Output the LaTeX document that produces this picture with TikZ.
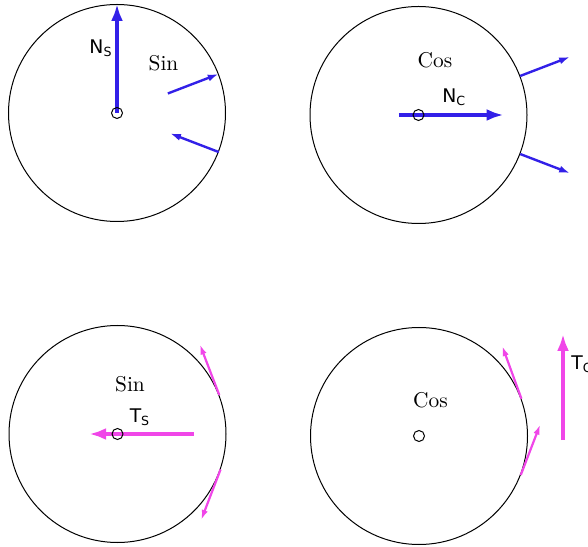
\documentclass[tikz,border=0pt]{standalone}
\usepackage{fontspec}
\newfontfamily\labelfont{DejaVu Sans}
\usetikzlibrary{arrows.meta,calc}
\definecolor{forceblue}{RGB}{50,32,232}
\definecolor{forcepink}{RGB}{240,70,232}
\newcommand{\forcelabel}[2]{{\labelfont\fontsize{9.4}{11}\selectfont #1\raisebox{-1.7pt}{\fontsize{6.3}{7}\selectfont #2}}}

\begin{document}
\begin{tikzpicture}[x=0.5pt,y=0.5pt,
    wheel/.style={circle, draw, line width=0.5pt, minimum size=108.5pt, inner sep=0pt},
    hub/.style={circle, draw, line width=0.5pt, minimum size=5.5pt, inner sep=0pt},
    word/.style={inner sep=0pt, font=\fontsize{10.7}{13}\selectfont},
    tag/.style={inner sep=0pt},
    bluebig/.style={forceblue, line width=2pt, -{Latex[length=8.5pt,width=6pt]}},
    bluesmall/.style={forceblue, line width=1.2pt, -{Latex[length=5.5pt,width=3.5pt]}},
    pinkbig/.style={forcepink, line width=1.8pt, -{Latex[length=8.5pt,width=6pt]}},
    pinksmall/.style={forcepink, line width=1.1pt, -{Latex[length=5pt,width=3.2pt]}}]
    \useasboundingbox (0,0) rectangle (588,546);

    % the four wheels
    \node[wheel] (sinN) at (117,433) {};
    \node[wheel] (cosN) at (418.5,431) {};
    \node[wheel] (sinT) at (117.5,112) {};
    \node[wheel] (cosT) at (419,110) {};

    % normal forces, sine wheel
    \draw[bluebig] (sinN.center) -- (sinN.north);
    \draw[bluesmall] ($(sinN)!0.5!(sinN.21)$) -- (sinN.21);
    \draw[bluesmall] (sinN.-21) -- ($(sinN)!0.52!(sinN.-21)$);

    % normal forces, cosine wheel
    \draw[bluebig] ($(cosN)!-0.18!(cosN.east)$) -- ($(cosN)!0.78!(cosN.east)$);
    \draw[bluesmall] (cosN.21) -- ($(cosN)!1.49!(cosN.21)$);
    \draw[bluesmall] (cosN.-21) -- ($(cosN)!1.49!(cosN.-21)$);

    % tangential forces, sine wheel
    \draw[pinkbig] ($(sinT)!0.7!(sinT.east)$) -- ($(sinT)!0.26!(sinT.west)$);
    \draw[pinksmall] (sinT.21) -- ++(111:54);
    \draw[pinksmall] (sinT.-19) -- ++(-111:54);

    % tangential forces, cosine wheel
    \coordinate (tcTail) at (563,106);
    \coordinate (tcHead) at (563,212);
    \draw[pinkbig] (tcTail) -- (tcHead);
    \draw[pinksmall] (cosT.20) -- ++(110:56);
    \draw[pinksmall] (cosT.-21) -- ++(69:54);

    % hubs
    \node[hub] (hubSN) at (sinN) {};
    \node[hub] (hubCN) at (cosN) {};
    \node[hub] (hubST) at (sinT) {};
    \node[hub] (hubCT) at (cosT) {};

    % labels
    \node[word] (wSN) at (163.5,483) {Sin};
    \node[word] (wCN) at (435,485.5) {Cos};
    \node[word] (wST) at (130,162) {Sin};
    \node[word] (wCT) at (430.4,146) {Cos};
    \node[tag] (tNS) at (100.5,498) {\forcelabel{N}{S}};
    \node[tag] (tNC) at (453.7,449) {\forcelabel{N}{C}};
    \node[tag] (tTS) at (139.5,129) {\forcelabel{T}{S}};
    \node[tag, anchor=west] (tTC) at (571,182) {\forcelabel{T}{C}};
\end{tikzpicture}
\end{document}
